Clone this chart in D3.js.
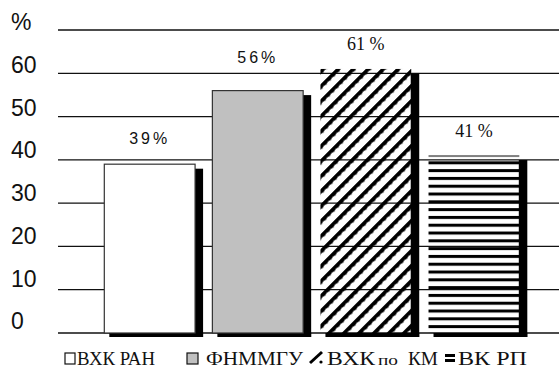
<!DOCTYPE html>
<html>
<head>
<meta charset="utf-8">
<script src="https://cdn.jsdelivr.net/npm/d3@7"></script>
<style>
  html, body { margin: 0; padding: 0; background: #fff; }
  svg { display: block; }
</style>
</head>
<body>
<svg id="chart" width="559" height="368"></svg>
<script>
// ---- data ----
const categories = ["ВХК РАН", "ФНММГУ", "ВХК по КМ", "ВК РП"];
const values = [39, 56, 61, 41];
const valueLabels = ["39%", "56%", "61 %", "41 %"];
const tickValues = [0, 10, 20, 30, 40, 50, 60];
const topTick = 70;
const unitLabel = "%";

// ---- layout / style ----
const svg = d3.select("#chart");
const W = 559, H = 368;
const y = d3.scaleLinear().domain([0, 70]).range([333, 30]);
const yLab = d3.scaleLinear().domain([0, 70]).range([321, 22]);
const x = d3.scaleBand().domain(categories).range([104.3, 519.3]).paddingInner(0.16).paddingOuter(0);
const labelLift = [26, 33, 25.5, 25];

const defs = svg.append("defs");
// diagonal hatch "/"
const diag = defs.append("pattern").attr("id", "diag")
  .attr("patternUnits", "userSpaceOnUse").attr("width", 10.6).attr("height", 6)
  .attr("patternTransform", "rotate(45)");
diag.append("rect").attr("x", 0).attr("y", 0).attr("width", 3.6).attr("height", 6).attr("fill", "#000");
diag.append("circle").attr("cx", 1.8).attr("cy", 3).attr("r", 2.5).attr("fill", "#000");
// horizontal stripes, aligned to the bar top
const stripeTop = y(values[3]) - 2;
const hstripe = defs.append("pattern").attr("id", "hstripe")
  .attr("patternUnits", "userSpaceOnUse").attr("x", 0).attr("y", stripeTop)
  .attr("width", 8).attr("height", 7.8);
hstripe.append("rect").attr("x", 0).attr("y", 0).attr("width", 8).attr("height", 3).attr("fill", "#000");

const fills = ["#ffffff", "#c0c0c0", "url(#diag)", "url(#hstripe)"];
const strokes = ["#333", "#333", "none", "none"];

// gridlines (0..70)
const gridVals = tickValues.concat([topTick]);
svg.append("g").selectAll("line").data(gridVals).join("line")
  .attr("x1", 58).attr("x2", W)
  .attr("y1", d => y(d)).attr("y2", d => y(d))
  .attr("stroke", "#111").attr("stroke-width", 1.3);

// tick labels
svg.append("g").selectAll("text").data(gridVals).join("text")
  .attr("x", 11).attr("y", d => yLab(d)).attr("dy", "0.36em")
  .attr("font-family", "Liberation Sans, Arial, sans-serif").attr("font-size", 23)
  .attr("fill", "#111")
  .text(d => d === topTick ? unitLabel : d);

// shadows
const sh = svg.append("g");
sh.selectAll("rect.sr").data(categories).join("rect").attr("class", "sr")
  .attr("x", d => x(d) + x.bandwidth() - 0.5)
  .attr("width", 8.5)
  .attr("y", (d, i) => y(values[i]) + 4.5)
  .attr("height", (d, i) => y(0) + 4 - (y(values[i]) + 4.5))
  .attr("fill", "#000");
sh.selectAll("rect.sb").data(categories).join("rect").attr("class", "sb")
  .attr("x", d => x(d) + 5)
  .attr("width", x.bandwidth() + 3)
  .attr("y", y(0))
  .attr("height", 4)
  .attr("fill", "#000");

// bars
svg.append("g").selectAll("rect").data(categories).join("rect")
  .attr("x", d => x(d))
  .attr("width", x.bandwidth())
  .attr("y", (d, i) => y(values[i]))
  .attr("height", (d, i) => y(0) - y(values[i]))
  .attr("fill", (d, i) => fills[i])
  .attr("stroke", (d, i) => strokes[i])
  .attr("stroke-width", 1.2);

// value labels
svg.append("g").selectAll("text").data(categories).join("text")
  .attr("x", d => x(d) + x.bandwidth() / 2)
  .attr("y", (d, i) => y(values[i]) - labelLift[i])
  .attr("dy", "0.36em")
  .attr("text-anchor", "middle")
  .attr("font-family", (d, i) => i < 2 ? "Liberation Sans, Arial, sans-serif" : "Liberation Serif, Times New Roman, serif")
  .attr("font-size", (d, i) => i < 2 ? 16 : 18)
  .attr("letter-spacing", (d, i) => i < 2 ? 3 : 0)
  .attr("fill", "#111")
  .text((d, i) => valueLabels[i]);

// legend
const lg = svg.append("g").attr("font-family", "Liberation Serif, Times New Roman, serif").attr("fill", "#111");
const base = 365;
// icon 1
lg.append("rect").attr("x", 65).attr("y", 353).attr("width", 10).attr("height", 11)
  .attr("fill", "#fff").attr("stroke", "#111").attr("stroke-width", 1.2);
lg.append("text").attr("x", 77).attr("y", base).attr("font-size", 18)
  .attr("textLength", 78).attr("lengthAdjust", "spacingAndGlyphs").text(categories[0]);
// icon 2
lg.append("rect").attr("x", 187).attr("y", 353).attr("width", 11).attr("height", 11)
  .attr("fill", "#c0c0c0").attr("stroke", "#111").attr("stroke-width", 1.2);
lg.append("text").attr("x", 206).attr("y", base).attr("font-size", 18)
  .attr("textLength", 97).attr("lengthAdjust", "spacingAndGlyphs").text(categories[1]);
// icon 3 (diagonal stroke)
lg.append("path").attr("d", "M310,363 L322,352").attr("stroke", "#000").attr("stroke-width", 3);
lg.append("circle").attr("cx", 321).attr("cy", 362).attr("r", 1.6).attr("fill", "#000");
const parts = categories[2].split(" ");
lg.append("text").attr("x", 327).attr("y", base).attr("font-size", 18)
  .attr("textLength", 48).attr("lengthAdjust", "spacingAndGlyphs").text(parts[0]);
lg.append("text").attr("x", 378).attr("y", base).attr("font-size", 14)
  .attr("textLength", 20).attr("lengthAdjust", "spacingAndGlyphs").text(parts[1]);
lg.append("text").attr("x", 408).attr("y", base).attr("font-size", 18)
  .attr("textLength", 30).attr("lengthAdjust", "spacingAndGlyphs").text(parts[2]);
// icon 4 (stripes)
lg.append("rect").attr("x", 445).attr("y", 354).attr("width", 10).attr("height", 3).attr("fill", "#000");
lg.append("rect").attr("x", 445).attr("y", 359).attr("width", 10).attr("height", 3).attr("fill", "#000");
lg.append("text").attr("x", 458).attr("y", base).attr("font-size", 18)
  .attr("textLength", 69).attr("lengthAdjust", "spacingAndGlyphs").text(categories[3]);
</script>
</body>
</html>
